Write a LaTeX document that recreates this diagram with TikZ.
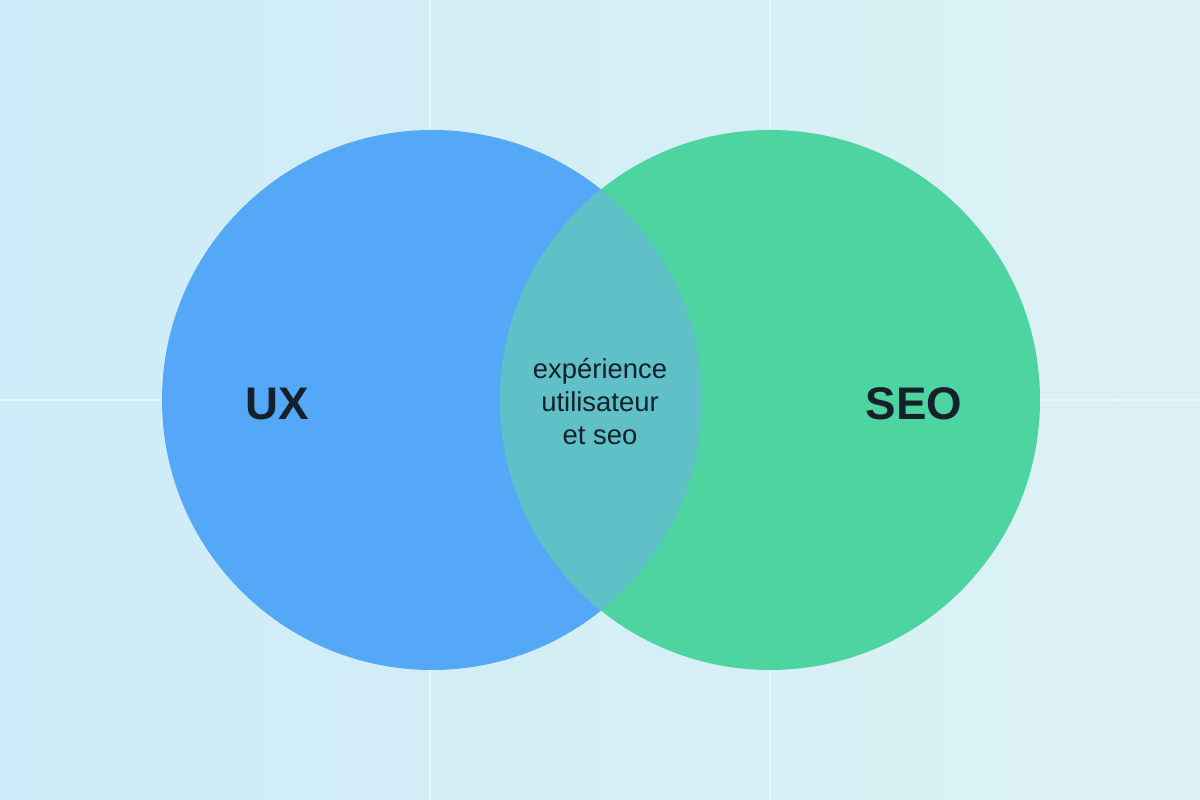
\documentclass[tikz,border=0pt]{standalone}
\usepackage{fontspec}
\setmainfont{Liberation Sans}
\definecolor{uxblue}{HTML}{55A8F8}
\definecolor{seogreen}{HTML}{4DD4A0}
\definecolor{overlap}{HTML}{5FC0C8}
\definecolor{bgleft}{HTML}{CDEBF8}
\definecolor{bgright}{HTML}{DDF2F4}
\definecolor{ink}{HTML}{14202A}
\tikzset{
  setlabel/.style={font=\bfseries\fontsize{13}{15}\selectfont, text=ink},
  midlabel/.style={font=\fontsize{7.8}{9.4}\selectfont, text=ink, align=center},
  guide/.style={white!35!bgright, line width=0.4pt}
}
\begin{document}
\begin{tikzpicture}
 \shade[left color=bgleft, right color=bgright] (0,0) rectangle (12,8);
 \useasboundingbox (0,0) rectangle (12,8);
%
 \draw[guide] (4.3,0) -- (4.3,8);
 \draw[guide] (7.7,0) -- (7.7,8);
 \draw[guide] (0,4) -- (12,4);
%
 \coordinate (cux) at (4.32,4);
 \coordinate (cseo) at (7.70,4);
 \fill[uxblue] (cux) circle (2.7);
 \fill[seogreen] (cseo) circle (2.7);
 \begin{scope}
  \clip (cux) circle (2.7);
  \fill[overlap] (cseo) circle (2.7);
 \end{scope}
%
 \node[setlabel] (ux) at (2.77,3.96) {UX};
 \node[setlabel] (seo) at (9.14,3.96) {SEO};
 \node[midlabel] (both) at (6.0,3.98) {expérience\\utilisateur\\et seo};
\end{tikzpicture}
\end{document}
